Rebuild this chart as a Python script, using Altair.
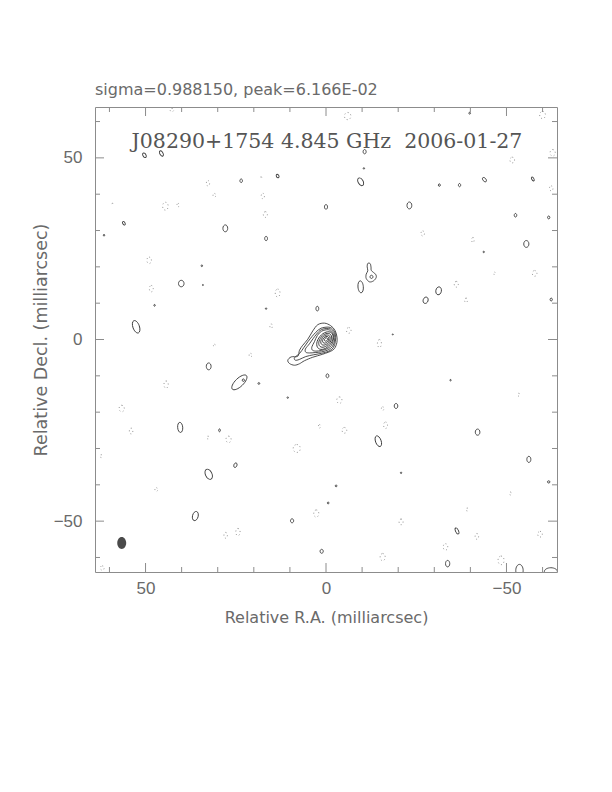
import altair as alt
import pandas as pd

# ---------------- data (milliarcsec) ----------------
# positive (solid) contour islands: RA, Dec, major axis, axis ratio, position angle
sol_ra    = [0.0, 0.08, 0.15, 0.23, 0.30,
             50.3, 45.6, 23.5, 13.4, 0.0, 56.0, 61.5, 27.9, 16.6, 34.4, 40.1, 47.5, 16.6, 2.4, 52.6, 34.1,
             -10.7, -10.5, -9.6, -31.4, -37.0, -43.9, -57.3, -23.1, -52.5, -61.7, -55.5, -43.7, -9.6,
             -27.6, -31.2, -62.4, -39.8,
             32.5, 24.0, 22.9, 18.6, 10.6, 40.4, 29.5, 25.1, 32.5, 36.2, 9.4, 1.2, -0.6, -0.4,
             -19.4, -14.5, -42.0, -56.2, -61.7, -34.5, -20.8, -2.8, -36.3, -33.7, -53.6, -62.3,
             -12.6, -18.5]
sol_dec   = [0.0, -0.08, -0.15, -0.23, -0.30,
             50.7, 51.2, 43.7, 45.0, 36.5, 32.0, 28.7, 30.6, 27.8, 20.3, 15.4, 9.4, 8.5, 8.5, 3.5, 15.0,
             51.7, 47.1, 43.4, 42.5, 42.5, 44.0, 44.2, 36.9, 34.2, 33.6, 26.3, 24.1, 14.5,
             10.8, 13.4, 11.0, 62.3,
             -7.4, -11.8, -11.2, -12.1, -16.0, -24.2, -25.0, -34.6, -37.1, -48.6, -49.9, -58.3, -45.0, -10.0,
             -18.3, -28.0, -25.5, -33.0, -39.2, -11.2, -36.7, -40.3, -52.7, -61.7, -63.6, -63.9,
             17.25, 1.4]
sol_maj   = [1.0, 2.1, 3.2, 4.4, 5.6,
             1.4, 1.6, 1.0, 1.0, 1.3, 1.1, 0.5, 1.9, 1.2, 0.5, 1.8, 0.5, 0.4, 1.3, 3.6, 0.3,
             1.2, 0.4, 2.3, 0.7, 0.9, 1.4, 1.2, 1.9, 1.0, 0.8, 1.9, 0.4, 3.3,
             1.8, 2.2, 0.8, 0.5,
             1.9, 5.4, 0.7, 0.5, 0.4, 2.8, 0.8, 1.3, 3.0, 2.6, 1.1, 1.1, 0.5, 1.1,
             1.4, 3.1, 1.7, 1.7, 0.7, 0.4, 0.4, 0.5, 1.8, 1.8, 3.4, 3.6,
             0.9, 0.3]
sol_ratio = [0.75, 0.67, 0.66, 0.64, 0.64,
             0.6, 0.55, 0.7, 0.7, 0.65, 0.6, 0.8, 0.7, 0.65, 0.8, 0.85, 0.8, 1.0, 0.6, 0.5, 1.0,
             0.7, 1.0, 0.6, 0.8, 0.7, 0.6, 0.5, 0.7, 0.7, 0.8, 0.75, 1.0, 0.45,
             0.75, 0.7, 0.8, 1.0,
             0.7, 0.42, 0.9, 1.0, 1.0, 0.5, 0.6, 0.65, 0.6, 0.6, 0.8, 0.8, 1.0, 0.7,
             0.7, 0.5, 0.75, 0.65, 0.9, 1.0, 1.0, 1.0, 0.45, 0.65, 0.6, 0.6,
             0.9, 1.0]
sol_pa    = [40, 40, 40, 40, 40,
             330, 330, 0, 330, 0, 330, 0, 0, 0, 0, 0, 0, 0, 0, 340, 0,
             0, 0, 330, 0, 0, 320, 330, 0, 0, 0, 0, 0, 355,
             20, 10, 0, 0,
             0, 46, 0, 0, 0, 355, 0, 20, 335, 15, 0, 0, 0, 0,
             0, 340, 0, 0, 90, 0, 0, 0, 335, 0, 0, 90,
             0, 0]

# negative (dotted) contour islands
neg_ra    = [32.7, 30.9, 44.5, 41.0, 17.5, 16.8, 49.0, 48.4, 13.4, 15.2, 59.2, 18.0, 42.7,
             -6.0, -60.0, -62.8, -51.6, -62.4, -26.8, -40.7, -57.8, -46.7, -36.1, -38.8, -6.3, -14.8,
             44.3, 56.6, 54.0, 32.7, 27.0, 8.1, 1.8, 62.3, 47.0, 27.8, 24.4, 2.7, 30.9, 20.9, 62.0,
             -3.7, -5.1, -15.7, -16.5, -53.4, -51.1, -39.1, -20.8, -41.8, -59.3, -33.1, -15.7, -48.5]
neg_dec   = [43.0, 39.7, 36.7, 37.0, 39.5, 34.4, 21.8, 14.0, 12.8, 3.7, 37.3, 44.6, 63.2,
             61.5, 61.8, 51.4, 49.4, 41.6, 29.2, 27.4, 18.2, 18.2, 15.2, 10.8, 2.5, -1.1,
             -12.4, -19.0, -25.2, -27.0, -27.5, -30.0, -23.9, -32.1, -41.3, -53.9, -53.0, -47.9, -1.6, -4.3, -62.9,
             -16.7, -25.0, -19.0, -23.6, -15.2, -42.4, -46.8, -50.2, -54.2, -53.6, -57.1, -59.9, -60.8]
neg_maj   = [1.5, 1.0, 2.2, 1.0, 1.5, 1.6, 1.8, 1.8, 2.2, 1.2, 0.4, 0.4, 1.0,
             2.0, 2.0, 1.8, 1.6, 1.4, 1.4, 1.4, 1.6, 0.8, 1.6, 1.2, 1.6, 2.2,
             2.0, 1.8, 1.6, 0.8, 1.8, 2.2, 1.0, 0.8, 1.0, 1.6, 2.0, 2.0, 0.6, 1.0, 1.2,
             1.8, 1.6, 1.0, 1.8, 0.8, 0.8, 0.8, 1.6, 1.6, 1.6, 1.8, 2.0, 2.4]
neg_ratio = [0.6, 0.8, 0.7, 0.6, 0.6, 0.7, 0.7, 0.6, 0.6, 0.6, 1.0, 1.0, 1.0,
             0.9, 0.8, 0.8, 0.8, 0.7, 0.7, 0.5, 0.8, 0.5, 0.7, 0.7, 0.8, 0.5,
             0.6, 0.8, 0.6, 0.8, 0.8, 0.9, 0.6, 0.8, 0.8, 0.6, 0.6, 0.7, 1.0, 0.8, 0.9,
             0.8, 0.8, 0.7, 0.6, 0.8, 0.8, 0.8, 0.7, 0.6, 0.8, 0.7, 0.7, 0.7]

# irregular contours around the core (outermost first) and the keyhole island
cont_id  = ["c1"] * 20 + ["c2"] * 18 + ["c3"] * 15 + ["c4"] * 13 + ["k1"] * 12
cont_ra  = [0.4, -1.3, -2.5, -3.05, -2.9, -1.9, 0.9, 3.66, 5.96, 7.34, 8.73, 10.11, 10.58, 9.64, 7.81, 7.34, 6.43, 5.04, 3.66, 2.27,
            -0.8, -2.0, -2.65, -2.6, -2.05, -0.8, 1.2, 3.4, 5.6, 7.4, 8.5, 8.7, 7.3, 6.2, 5.0, 3.8, 2.8, 1.4,
            -0.7, -1.75, -2.4, -2.35, -1.8, -0.6, 1.2, 3.0, 4.6, 5.6, 5.7, 4.6, 3.6, 2.6, 1.3,
            -0.6, -1.5, -2.1, -2.0, -1.5, -0.4, 1.2, 2.8, 3.8, 3.9, 3.2, 2.4, 1.2,
            -11.58, -12.24, -12.47, -12.60, -13.71, -13.91, -13.16, -12.05, -11.14, -11.14, -11.58, -11.41]
cont_dec = [4.5, 3.8, 2.5, 0.6, -1.3, -2.9, -4.05, -4.88, -5.84, -6.67, -7.08, -6.61, -5.70, -4.79, -4.60, -2.95, -1.57, 0.08, 2.37, 4.08,
            3.4, 2.7, 1.4, -0.5, -2.2, -3.2, -3.8, -4.2, -4.7, -5.5, -5.7, -5.0, -3.8, -2.3, -0.6, 0.9, 2.0, 3.1,
            3.05, 2.45, 1.3, -0.4, -1.9, -2.85, -3.4, -3.6, -3.7, -3.5, -2.6, -1.2, 0.2, 1.5, 2.7,
            2.7, 2.15, 1.2, -0.3, -1.6, -2.5, -3.0, -3.2, -2.9, -2.0, -0.6, 1.1, 2.3,
            20.94, 20.88, 19.92, 18.95, 17.99, 17.08, 16.14, 15.87, 16.80, 17.99, 18.90, 20.0]

# restoring beam
beam_ra, beam_dec, beam_maj, beam_ratio, beam_pa = [56.6], [-56.0], [3.3], [0.75], [0]

minor_ticks = [-60, -40, -30, -20, -10, 10, 20, 30, 40, 60]
major_ticks = [-50, 0, 50]

header = "sigma=0.988150, peak=6.166E-02"
label = "J08290+1754 4.845 GHz \u00a02006-01-27"

# ---------------- chart ----------------
W, H = 462, 465
FRAME = "#8c8c8c"
TXT = "#6a6a6a"
LINE = "#3a3a3a"

xs = alt.Scale(domain=[-64, 64], reverse=True, nice=False, zero=False)
ys = alt.Scale(domain=[-64, 64], nice=False, zero=False)
sz = alt.Scale(type="pow", exponent=2, domain=[0, 10], range=[0, 1310])

sol = pd.DataFrame(dict(ra=sol_ra, dec=sol_dec, maj=sol_maj, r=sol_ratio, pa=sol_pa))
neg = pd.DataFrame(dict(ra=neg_ra, dec=neg_dec, maj=neg_maj, r=neg_ratio, pa=[0] * len(neg_ra)))
beam = pd.DataFrame(dict(ra=beam_ra, dec=beam_dec, maj=beam_maj, r=beam_ratio, pa=beam_pa))
cont = pd.DataFrame(dict(id=cont_id, ra=cont_ra, dec=cont_dec, i=list(range(len(cont_id)))))

shape_expr = "'M0 -1 A' + datum.r + ' 1 0 1 1 0 1 A' + datum.r + ' 1 0 1 1 0 -1 Z'"

x_axis = alt.Axis(values=major_ticks, ticks=False, tickSize=0, domain=False, grid=False,
                  labelFont="Liberation Sans", labelFontSize=17, labelColor=TXT, labelPadding=8,
                  labelBaseline="top",
                  title="Relative R.A. (milliarcsec)", titleFont="DejaVu Sans", titleFontSize=16,
                  titleFontWeight="normal", titleColor=TXT, titleX=W / 2, titleY=45,
                  titleBaseline="middle", titleAlign="center")
y_axis = alt.Axis(values=major_ticks, ticks=False, tickSize=0, domain=False, grid=False,
                  labelFont="Liberation Sans", labelFontSize=17, labelColor=TXT, labelPadding=13,
                  labelBaseline="middle",
                  title="Relative Decl. (milliarcsec)", titleFont="DejaVu Sans", titleFontSize=17.5,
                  titleFontWeight="normal", titleColor=TXT, titleX=-54, titleY=H / 2,
                  titleAngle=270, titleBaseline="middle", titleAlign="center")


def X(field):
    return alt.X(field, scale=xs, axis=x_axis)


def Y(field):
    return alt.Y(field, scale=ys, axis=y_axis)


def blobs(df, dashed=False, filled=False):
    m = alt.Chart(df).transform_calculate(shp=shape_expr)
    if filled:
        m = m.mark_point(filled=True, clip=True, color="#4a4a4a", opacity=1, strokeWidth=0.5)
    elif dashed:
        m = m.mark_point(filled=False, clip=True, color="#999999", opacity=1, strokeWidth=1,
                         strokeDash=[1, 2.5])
    else:
        m = m.mark_point(filled=False, clip=True, color=LINE, opacity=1, strokeWidth=0.9)
    return m.encode(
        x=X("ra:Q"),
        y=Y("dec:Q"),
        size=alt.Size("maj:Q", scale=sz, legend=None),
        shape=alt.Shape("shp:N", scale=None),
        angle=alt.Angle("pa:Q", scale=None),
    )


contours = alt.Chart(cont).mark_line(interpolate="cardinal-closed", clip=True, color=LINE,
                                      strokeWidth=0.9).encode(
    x=X("ra:Q"),
    y=Y("dec:Q"),
    detail="id:N",
    order="i:Q",
)


def ticks(vals, length):
    d = pd.DataFrame({"t": vals})
    base = alt.Chart(d).mark_rule(color=FRAME, strokeWidth=1)
    return [
        base.encode(x=X("t:Q"), y=alt.value(0), y2=alt.value(length)),
        base.encode(x=X("t:Q"), y=alt.value(H), y2=alt.value(H - length)),
        base.encode(y=Y("t:Q"), x=alt.value(0), x2=alt.value(length)),
        base.encode(y=Y("t:Q"), x=alt.value(W), x2=alt.value(W - length)),
    ]


txt_df = pd.DataFrame({"h": [header], "l": [label]})
head = alt.Chart(txt_df).mark_text(align="left", baseline="alphabetic", font="DejaVu Sans",
                                   fontSize=16, color=TXT).encode(
    text="h:N", x=alt.value(0), y=alt.value(-12))
lab = alt.Chart(txt_df).mark_text(align="center", baseline="alphabetic", font="DejaVu Serif",
                                  fontSize=20.5, color="#555555").encode(
    text="l:N", x=alt.value(W / 2 + 1), y=alt.value(41))

layers = [blobs(sol), blobs(neg, dashed=True), blobs(beam, filled=True), contours] \
    + ticks(minor_ticks, 5) + ticks(major_ticks, 9) + [head, lab]

chart = alt.layer(*layers).properties(
    width=W, height=H,
    padding={"left": 87, "top": 99, "right": 47, "bottom": 212},
    autosize=alt.AutoSizeParams(type="none"),
    background="white",
).configure_view(stroke=FRAME, strokeWidth=1)

chart.save("out.html", embed_options={"renderer": "svg", "actions": False})
